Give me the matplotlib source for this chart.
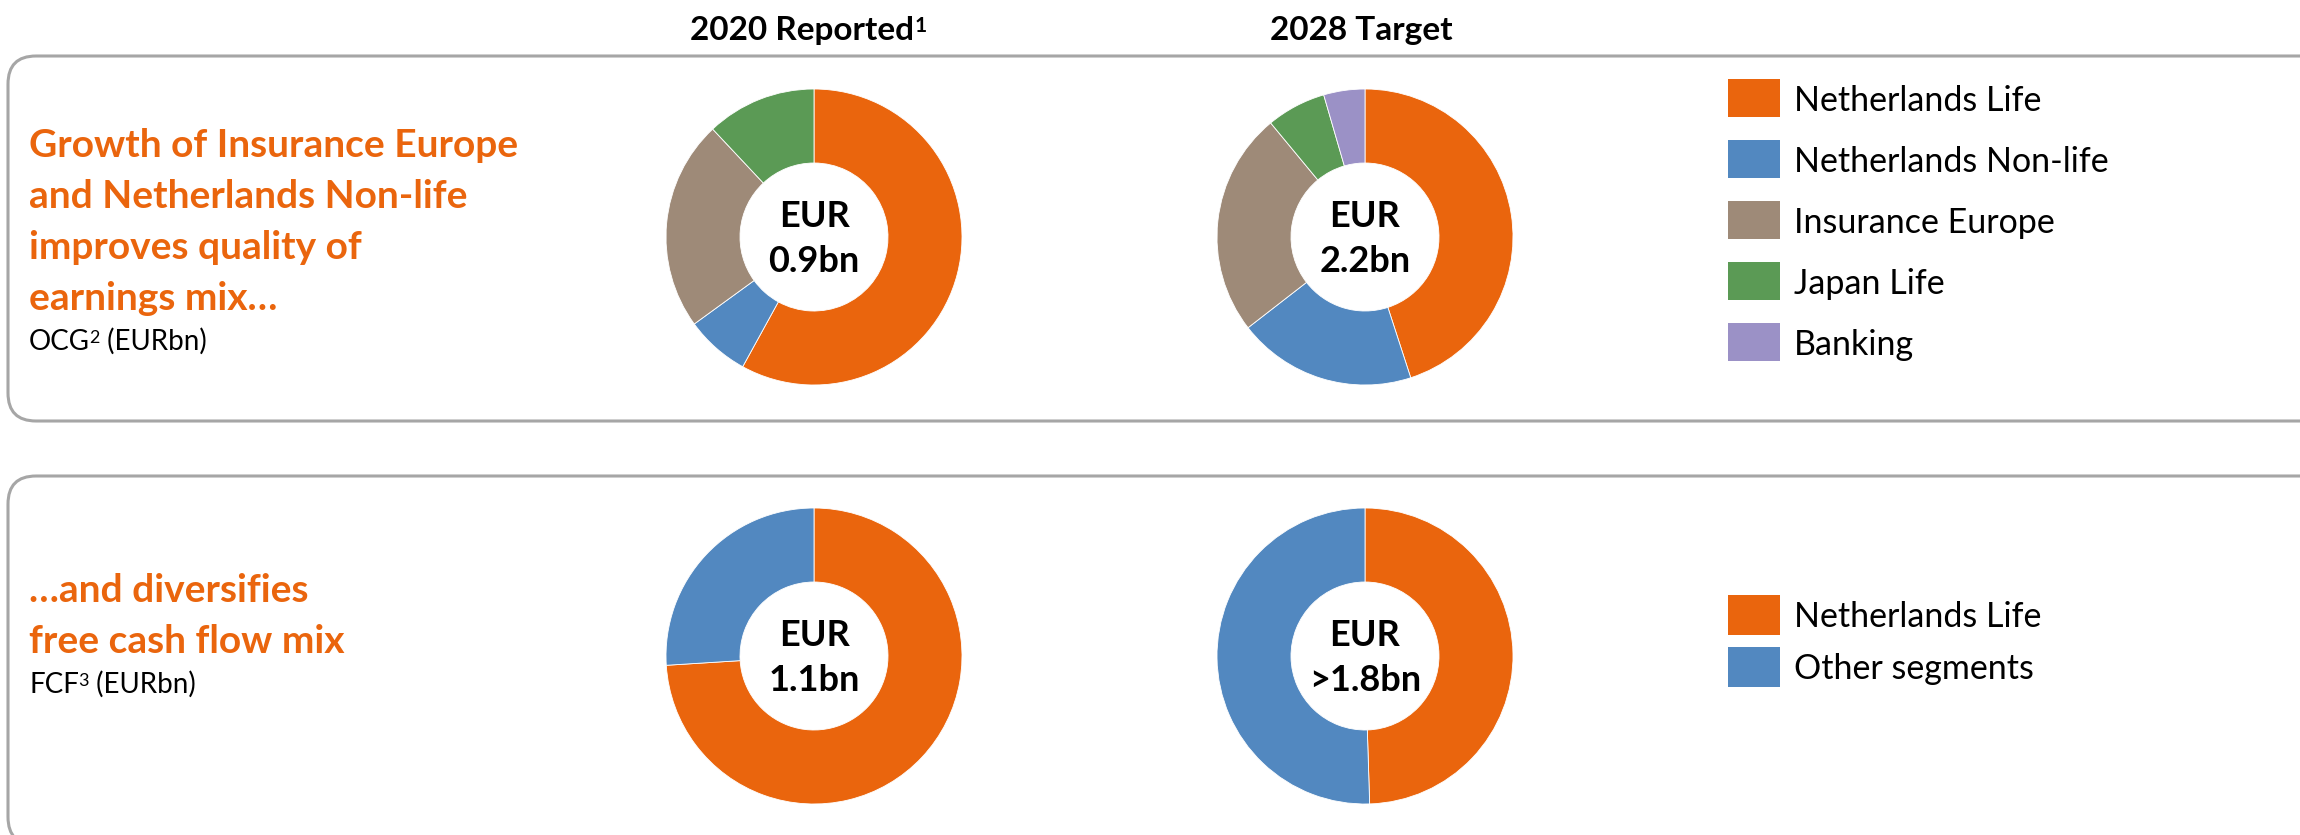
import matplotlib
matplotlib.use("Agg")
import matplotlib.pyplot as plt
from matplotlib.patches import FancyBboxPatch, Rectangle

plt.rcParams['font.family'] = ['Lato', 'DejaVu Sans']

# data (shares in %)
ocg_segments = ["Netherlands Life", "Netherlands Non-life", "Insurance Europe", "Japan Life", "Banking"]
ocg_colors = ["#EA650D", "#5288C0", "#9E8A78", "#5B9A55", "#9B91C6"]
ocg_2020 = [58, 7, 23, 12, 0]
ocg_2028 = [45, 19.5, 24.5, 6.5, 4.5]
ocg_totals = ["0.9bn", "2.2bn"]

fcf_segments = ["Netherlands Life", "Other segments"]
fcf_colors = ["#EA650D", "#5288C0"]
fcf_2020 = [74, 26]
fcf_2028 = [49.5, 50.5]
fcf_totals = ["1.1bn", ">1.8bn"]

col_titles = ["2020 Reported", "2028 Target"]
col_notes = ["1", ""]

W, H = 2300, 835
ORANGE = "#EA650D"
fig = plt.figure(figsize=(W / 100, H / 100), dpi=100)

# background axes in pixel coords (y down)
bg = fig.add_axes([0, 0, 1, 1])
bg.set_xlim(0, W)
bg.set_ylim(H, 0)
bg.axis("off")

#%% rounded panels
for top, bottom in [(56, 421), (476, 845)]:
    box = FancyBboxPatch((8, top), 2330, bottom - top,
                         boxstyle="round,pad=0,rounding_size=28",
                         fc="white", ec="#A6A6A6", lw=2.2)
    bg.add_patch(box)

#%% column headers
col_x = [814, 1365]
head_x = [802, 1361]
for i in range(2):
    t = bg.text(head_x[i], 40, col_titles[i], ha="center", va="baseline",
                fontsize=24, fontweight="bold", color="black")
    if col_notes[i]:
        bg.annotate(col_notes[i], xy=(1, 1), xycoords=t, xytext=(0.5, 0),
                    textcoords="offset points", va="top", ha="left",
                    fontsize=15, fontweight="bold")

#%% left hand text
top_lines = ["Growth of Insurance Europe", "and Netherlands Non-life",
             "improves quality of", "earnings mix\u2026"]
for k, line in enumerate(top_lines):
    bg.text(29, 157 + 51 * k, line, ha="left", va="baseline",
            fontsize=28, fontweight="bold", color=ORANGE)
bot_lines = ["\u2026and diversifies", "free cash flow mix"]
for k, line in enumerate(bot_lines):
    bg.text(29, 602 + 51 * k, line, ha="left", va="baseline",
            fontsize=28, fontweight="bold", color=ORANGE)


def sup_label(x, y, main, sup, rest):
    t1 = bg.text(x, y, main, ha="left", va="baseline", fontsize=20)
    t2 = bg.annotate(sup, xy=(1, 1), xycoords=t1, xytext=(-0.5, -1),
                     textcoords="offset points", va="top", ha="left", fontsize=13)
    bg.annotate(rest, xy=(1, 0), xycoords=(t2, t1), va="bottom", ha="left",
                fontsize=20)


sup_label(29, 350, "OCG", "2", " (EURbn)")
sup_label(29, 693, "FCF", "3", " (EURbn)")

#%% donuts
R = 148


def donut(cx, cy, vals, colors, total):
    ax = fig.add_axes([(cx - R) / W, 1 - (cy + R) / H, 2 * R / W, 2 * R / H])
    keep = [(v, c) for v, c in zip(vals, colors) if v > 0]
    ax.pie([v for v, c in keep], colors=[c for v, c in keep], startangle=90,
           counterclock=False, radius=1,
           wedgeprops=dict(width=0.5, edgecolor="white", linewidth=0.6))
    ax.set_xlim(-1.0, 1.0)
    ax.set_ylim(-1.0, 1.0)
    bg.text(cx, cy - 10, "EUR", ha="center", va="baseline", fontsize=26,
            fontweight="bold")
    bg.text(cx, cy + 35, total, ha="center", va="baseline", fontsize=26,
            fontweight="bold")


donut(col_x[0], 237, ocg_2020, ocg_colors, ocg_totals[0])
donut(col_x[1], 237, ocg_2028, ocg_colors, ocg_totals[1])
donut(col_x[0], 656, fcf_2020, fcf_colors, fcf_totals[0])
donut(col_x[1], 656, fcf_2028, fcf_colors, fcf_totals[1])

#%% legends
for k, (name, c) in enumerate(zip(ocg_segments, ocg_colors)):
    yc = 98 + 61 * k
    bg.add_patch(Rectangle((1728, yc - 19), 52, 38, fc=c, ec="none"))
    bg.text(1794, yc + 13, name, ha="left", va="baseline", fontsize=24.5)
for k, (name, c) in enumerate(zip(fcf_segments, fcf_colors)):
    yc = 615 + 52 * k
    bg.add_patch(Rectangle((1728, yc - 20), 52, 40, fc=c, ec="none"))
    bg.text(1794, yc + 12, name, ha="left", va="baseline", fontsize=24.5)

plt.savefig("out.png", dpi=100)
